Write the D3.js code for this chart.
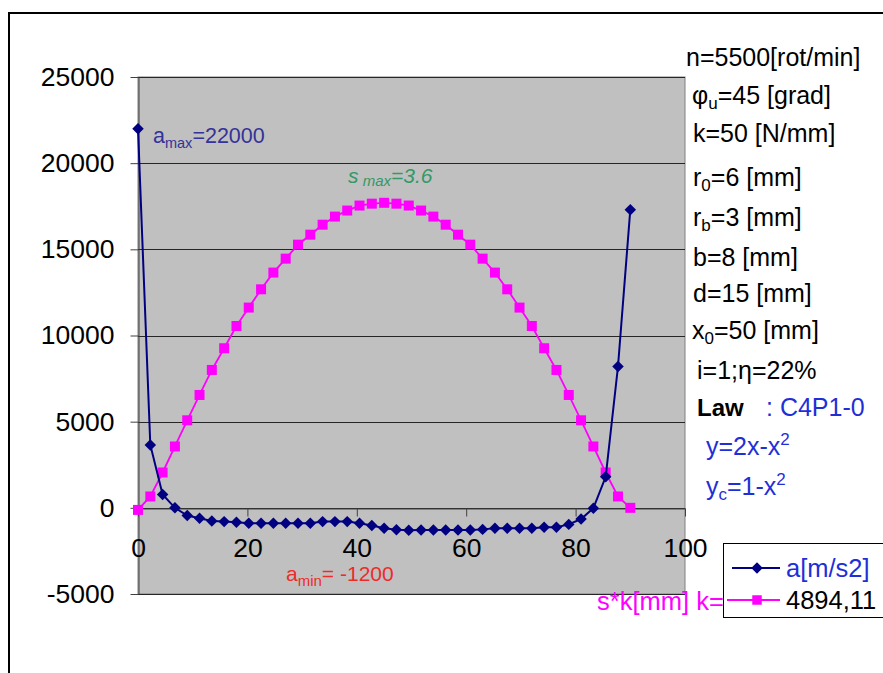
<!DOCTYPE html>
<html>
<head>
<meta charset="utf-8">
<script src="https://cdn.jsdelivr.net/npm/d3@7"></script>
<style>
  html, body { margin: 0; padding: 0; background: #ffffff; }
  svg text { font-family: Arial, "Liberation Sans", sans-serif; }
</style>
</head>
<body>
<svg id="chart" width="883" height="673"></svg>
<script>
// ---- data ----
const xValues = [0, 2.25, 4.5, 6.75, 9, 11.25, 13.5, 15.75, 18, 20.25, 22.5, 24.75, 27, 29.25, 31.5, 33.75, 36, 38.25, 40.5, 42.75, 45, 47.25, 49.5, 51.75, 54, 56.25, 58.5, 60.75, 63, 65.25, 67.5, 69.75, 72, 74.25, 76.5, 78.75, 81, 83.25, 85.5, 87.75, 90];
const accel = [22000, 3650, 780, 0, -450, -600, -760, -800, -840, -900, -900, -900, -900, -900, -900, -800, -800, -800, -900, -1030, -1180, -1270, -1300, -1290, -1290, -1290, -1290, -1290, -1250, -1190, -1190, -1190, -1190, -1130, -1130, -960, -650, -20, 1800, 8200, 17300];
const sk = [-120, 660, 2050, 3560, 5080, 6550, 8000, 9260, 10550, 11620, 12680, 13650, 14460, 15270, 15850, 16430, 16900, 17250, 17540, 17650, 17700, 17650, 17540, 17250, 16900, 16430, 15850, 15270, 14460, 13650, 12680, 11620, 10550, 9260, 8000, 6550, 5080, 3560, 2050, 660, 0];
const yTicks = [-5000, 0, 5000, 10000, 15000, 20000, 25000];
const xTicks = [0, 20, 40, 60, 80, 100];
const legendLabels = ["a[m/s2]", "4894,11"];

const svg = d3.select("#chart");
const X0 = 138, X1 = 685, Y0 = 77, Y1 = 594;
const x = d3.scaleLinear().domain([0, 100]).range([X0, X1]);
const y = d3.scaleLinear().domain([-5000, 25000]).range([Y1, Y0]);
const fmt = d => String(d); // plain hyphen-minus like the reference

// outer frame (left and top edges visible)
svg.append("rect").attr("x", 9).attr("y", 13).attr("width", 900).attr("height", 700)
  .attr("fill", "none").attr("stroke", "#000").attr("stroke-width", 2);

// plot area
svg.append("rect").attr("x", X0).attr("y", Y0).attr("width", X1 - X0).attr("height", Y1 - Y0)
  .attr("fill", "#c0c0c0").attr("stroke", "#808080").attr("stroke-width", 1);

// gridlines
svg.append("g").selectAll("line").data(yTicks).join("line")
  .attr("x1", X0).attr("x2", X1)
  .attr("y1", d => Math.round(y(d)) + 0.5).attr("y2", d => Math.round(y(d)) + 0.5)
  .attr("stroke", "#262626").attr("stroke-width", 1);

// y axis
const yAxis = svg.append("g").attr("transform", `translate(${X0 + 0.5},0)`)
  .call(d3.axisLeft(y).tickValues(yTicks).tickSize(8).tickSizeOuter(0).tickPadding(16).tickFormat(fmt));
yAxis.selectAll("text").attr("font-size", 26.5).attr("fill", "#000").attr("font-family", "Arial, 'Liberation Sans', sans-serif");
yAxis.selectAll("line, path").attr("stroke", "#404040");

// x axis at zero
const xAxis = svg.append("g").attr("transform", `translate(0,${Math.round(y(0)) + 0.5})`)
  .call(d3.axisBottom(x).tickValues(xTicks).tickSize(8).tickSizeOuter(0).tickPadding(22).tickFormat(fmt));
xAxis.selectAll("text").attr("font-size", 26.5).attr("fill", "#000").attr("font-family", "Arial, 'Liberation Sans', sans-serif");
xAxis.selectAll("line, path").attr("stroke", "#404040");

// series s*k (magenta)
const skData = xValues.map((v, i) => [v, sk[i]]);
const aData = xValues.map((v, i) => [v, accel[i]]);
const line = d3.line().x(d => x(d[0])).y(d => y(d[1]));

svg.append("path").datum(skData).attr("d", line)
  .attr("fill", "none").attr("stroke", "#ff00ff").attr("stroke-width", 1.8);
svg.append("g").selectAll("path").data(skData).join("path")
  .attr("d", d3.symbol(d3.symbolSquare, 100))
  .attr("transform", d => `translate(${x(d[0])},${y(d[1])})`)
  .attr("fill", "#ff00ff");

// series a (navy)
svg.append("path").datum(aData).attr("d", line)
  .attr("fill", "none").attr("stroke", "#000080").attr("stroke-width", 2);
svg.append("g").selectAll("path").data(aData).join("path")
  .attr("d", d3.symbol(d3.symbolSquare, 66))
  .attr("transform", d => `translate(${x(d[0])},${y(d[1])}) rotate(45)`)
  .attr("fill", "#000080");

// annotations
function richText(xp, yp, size, color, parts, extra) {
  const t = svg.append("text").attr("x", xp).attr("y", yp).attr("font-size", size).attr("fill", color);
  if (extra) extra(t);
  let shift = 0;
  parts.forEach(p => {
    const ts = t.append("tspan").text(p.t);
    let target = p.sub ? (p.off || 5) : (p.sup ? -10 : 0);
    ts.attr("dy", target - shift);
    shift = target;
    if (p.sub || p.sup) ts.attr("font-size", p.size || size * 0.65);
    if (p.color) ts.attr("fill", p.color);
    if (p.bold) ts.attr("font-weight", "bold");
  });
  return t;
}

richText(153, 143, 21.5, "#333399", [{t: "a"}, {t: "max", sub: true, size: 14.5}, {t: "=22000"}]);
richText(348, 183, 21, "#339966", [{t: "s"}, {t: " max", sub: true, size: 15, off: 3}, {t: "=3.6"}], t => t.attr("font-style", "italic"));
richText(286, 581, 21, "#ee2b2b", [{t: "a"}, {t: "min", sub: true, size: 15}, {t: "= -1200"}]);

// right side parameter texts
const FS = 25;
richText(686, 66, FS, "#000", [{t: "n=5500[rot/min]"}]);
richText(692, 104, FS, "#000", [{t: "φ"}, {t: "u", sub: true, size: 17}, {t: "=45 [grad]"}]);
richText(693, 142, FS, "#000", [{t: "k=50 [N/mm]"}]);
richText(693, 186, FS, "#000", [{t: "r"}, {t: "0", sub: true, size: 17}, {t: "=6 [mm]"}]);
richText(693, 226, FS, "#000", [{t: "r"}, {t: "b", sub: true, size: 17}, {t: "=3 [mm]"}]);
richText(693, 266, FS, "#000", [{t: "b=8 [mm]"}]);
richText(693, 302, FS, "#000", [{t: "d=15 [mm]"}]);
richText(692, 339, FS, "#000", [{t: "x"}, {t: "0", sub: true, size: 17}, {t: "=50 [mm]"}]);
richText(697, 379, FS, "#000", [{t: "i=1;η=22%"}]);
richText(697, 416, 24, "#000", [{t: "Law"}], t => t.attr("font-weight", "bold"));
richText(766, 416, FS, "#1f2fd8", [{t: ": C4P1-0"}]);
richText(706, 455, FS, "#1f2fd8", [{t: "y=2x-x"}, {t: "2", sup: true, size: 17}]);
richText(706, 495, FS, "#1f2fd8", [{t: "y"}, {t: "c", sub: true, size: 17}, {t: "=1-x"}, {t: "2", sup: true, size: 17}]);

// legend
const lg = svg.append("g");
lg.append("rect").attr("x", 723.5).attr("y", 543.5).attr("width", 200).attr("height", 74)
  .attr("fill", "#fff").attr("stroke", "#000").attr("stroke-width", 1);
// magenta label overlapping the legend
richText(597, 610, 25.5, "#ff00ff", [{t: "s*k[mm] k="}]);
lg.append("line").attr("x1", 732).attr("x2", 780).attr("y1", 568).attr("y2", 568)
  .attr("stroke", "#000080").attr("stroke-width", 2);
lg.append("path").attr("d", d3.symbol(d3.symbolSquare, 66)).attr("transform", "translate(757,568) rotate(45)").attr("fill", "#000080");
svg.append("line").attr("x1", 727).attr("x2", 780).attr("y1", 600).attr("y2", 600)
  .attr("stroke", "#ff00ff").attr("stroke-width", 1.8);
svg.append("path").attr("d", d3.symbol(d3.symbolSquare, 90)).attr("transform", "translate(757,600)").attr("fill", "#ff00ff");
richText(786, 577, 25.5, "#1f2fd8", [{t: legendLabels[0]}]);
richText(786, 609, 25.5, "#000", [{t: legendLabels[1]}]);
</script>
</body>
</html>
